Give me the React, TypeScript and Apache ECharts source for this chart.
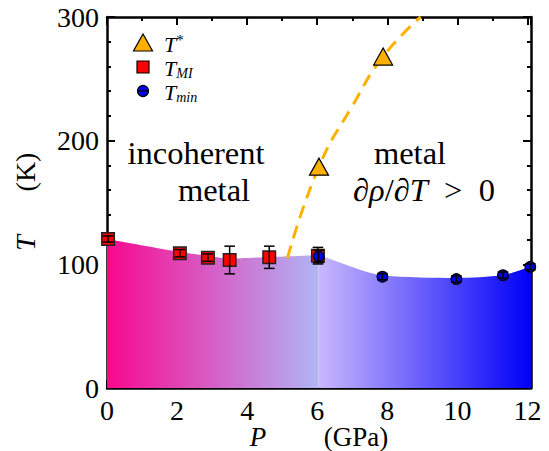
import React, { useEffect, useRef } from 'react';
import * as echarts from 'echarts';

// T_MI (red squares)
const tmiP = [0.03, 2.08, 2.88, 3.5, 4.63, 6.02];
const tmiT = [120.5, 109, 105.4, 103.5, 105.7, 107];
const tmiErr = [2.5, 3, 3, 11.2, 9, 6.7];
// T_min (blue circles)
const tminP = [6.04, 7.86, 9.97, 11.3, 12.08];
const tminT = [106.5, 90, 88.1, 91.3, 98];
const tminErr = [5, 2.5, 2.5, 2.5, 2.5];
// T* (orange triangles)
const tStarP = [6.05, 7.88];
const tStarT = [179, 268];
// dashed T* guide curve
const tStarCurveP = [5.15, 6.05, 7.0, 7.88, 8.95];
const tStarCurveT = [105, 179, 228, 268, 300];
// insulator / metal boundary (shaded region)
const boundaryLeftP = [0, 2.08, 2.88, 3.5, 4.63, 5.5, 6.03];
const boundaryLeftT = [120.5, 110, 107, 104.5, 106, 106.8, 107.5];
const boundaryRightP = [6.03, 6.25, 7.24, 7.88, 9.97, 11.3, 12.1];
const boundaryRightT = [107.5, 105.5, 95.5, 91, 89, 91.3, 98.5];

const serif = 'Liberation Serif';

export default function App() {
  const ref = useRef<HTMLDivElement>(null);
  useEffect(() => {
    if (!ref.current) return;
    const chart = echarts.init(ref.current, undefined, { renderer: 'svg' });
    const zip = (a: number[], b: number[]) => a.map((v, i) => [v, b[i]]);
    const errData = (p: number[], t: number[], e: number[]) => p.map((v, i) => [v, t[i] - e[i], t[i] + e[i]]);

    const axisCommon = {
      axisLine: { show: true, onZero: false, lineStyle: { color: '#000', width: 2.5 } },
      axisTick: { show: true, inside: true, length: 8, lineStyle: { color: '#000', width: 2 } },
      minorTick: { show: true, length: 4, lineStyle: { color: '#000', width: 2 } },
      splitLine: { show: false },
    };
    const labelStyle = { color: '#000', fontFamily: serif, fontSize: 28 };

    const errRender = (params: any, api: any) => {
      const x = api.value(0), lo = api.value(1), hi = api.value(2);
      const a = api.coord([x, lo]);
      const b = api.coord([x, hi]);
      const w = 5.3;
      const st = { stroke: '#000', lineWidth: 1.5 };
      return {
        type: 'group',
        children: [
          { type: 'line', shape: { x1: a[0], y1: a[1], x2: b[0], y2: b[1] }, style: st },
          { type: 'line', shape: { x1: a[0] - w, y1: a[1], x2: a[0] + w, y2: a[1] }, style: st },
          { type: 'line', shape: { x1: b[0] - w, y1: b[1], x2: b[0] + w, y2: b[1] }, style: st },
        ],
      };
    };

    const FS = 32.5;
    const LH = 29;
    const bigText = (text: string, x: number, y: number, rich = false) => ({
      type: 'text',
      x, y,
      style: {
        text,
        fontFamily: serif,
        fontSize: FS,
        lineHeight: LH,
        fill: '#000',
        align: 'center',
        verticalAlign: 'middle',
        ...(rich
          ? {
              rich: {
                i: { fontFamily: serif, fontSize: FS, fontStyle: 'italic', lineHeight: LH },
                n: { fontFamily: serif, fontSize: FS, lineHeight: LH },
              },
            }
          : {}),
      },
    });

    const legendRich = {
      t: { fontFamily: serif, fontSize: 22, fontStyle: 'italic', lineHeight: 24 },
      sup: { fontFamily: serif, fontSize: 15, fontStyle: 'normal', lineHeight: 12, verticalAlign: 'top' },
      sub: { fontFamily: serif, fontSize: 14, fontStyle: 'italic', lineHeight: 12, verticalAlign: 'bottom' },
    };

    chart.setOption({
      animation: false,
      backgroundColor: '#fff',
      grid: { left: 107, right: 18, top: 17, bottom: 63 },
      xAxis: [
        {
          type: 'value', min: 0, max: 12.1, interval: 2, position: 'bottom',
          ...axisCommon,
          minorTick: { ...axisCommon.minorTick, splitNumber: 2 },
          axisLabel: {
            ...labelStyle, margin: 8,
            formatter: (v: number) => (Math.abs(v - Math.round(v)) < 1e-6 && Math.round(v) % 2 === 0 ? String(Math.round(v)) : ''),
          },
        },
        {
          type: 'value', min: 0, max: 12.1, interval: 2, position: 'top',
          ...axisCommon,
          minorTick: { ...axisCommon.minorTick, splitNumber: 2 },
          axisLabel: { show: false },
        },
      ],
      yAxis: [
        {
          type: 'value', min: 0, max: 300, interval: 100, position: 'left',
          ...axisCommon,
          minorTick: { ...axisCommon.minorTick, splitNumber: 5 },
          axisLabel: { ...labelStyle, margin: 8 },
        },
        {
          type: 'value', min: 0, max: 300, interval: 100, position: 'right',
          ...axisCommon,
          minorTick: { ...axisCommon.minorTick, splitNumber: 5 },
          axisLabel: { show: false },
        },
      ],
      series: [
        {
          type: 'line', name: 'insulatorRegion', data: zip(boundaryLeftP, boundaryLeftT),
          smooth: 0.2, showSymbol: false, symbol: 'none', lineStyle: { width: 0 }, z: 1,
          areaStyle: {
            opacity: 1,
            color: new echarts.graphic.LinearGradient(0, 0, 1, 0, [
              { offset: 0, color: '#f8088e' },
              { offset: 0.5, color: '#d65fc5' },
              { offset: 1, color: '#b0b5f6' },
            ]),
          },
        },
        {
          type: 'line', name: 'metalRegion', data: zip(boundaryRightP, boundaryRightT),
          smooth: 0.3, showSymbol: false, symbol: 'none', lineStyle: { width: 0 }, z: 1,
          areaStyle: {
            opacity: 1,
            color: new echarts.graphic.LinearGradient(0, 0, 1, 0, [
              { offset: 0, color: '#cab8fd' },
              { offset: 1, color: '#0000f8' },
            ]),
          },
        },
        {
          type: 'line', name: 'T* guide', data: zip(tStarCurveP, tStarCurveT),
          smooth: true, showSymbol: false, symbol: 'none', z: 3,
          lineStyle: { color: '#ffb000', width: 3, type: [13, 8] },
        },
        {
          type: 'scatter', name: 'T_MI', data: zip(tmiP, tmiT), symbol: 'rect', symbolSize: 12.5, z: 4,
          itemStyle: { color: '#ff0000', borderColor: '#222', borderWidth: 1.5, opacity: 1 },
        },
        {
          type: 'scatter', name: 'T_min', data: zip(tminP, tminT), symbol: 'circle', symbolSize: 10.5, z: 5,
          itemStyle: { color: '#0000ee', borderColor: '#000', borderWidth: 1.3, opacity: 1 },
        },
        {
          type: 'custom', name: 'errMI', data: errData(tmiP, tmiT, tmiErr), renderItem: errRender,
          encode: { x: 0, y: [1, 2] }, z: 6,
        },
        {
          type: 'custom', name: 'errMin', data: errData(tminP, tminT, tminErr), renderItem: errRender,
          encode: { x: 0, y: [1, 2] }, z: 6,
        },
        {
          type: 'scatter', name: 'T*', data: zip(tStarP, tStarT), symbol: 'triangle', symbolSize: [19, 17], z: 7,
          itemStyle: { color: '#ffb000', borderColor: '#000', borderWidth: 1.2, opacity: 1 },
        },
      ],
      graphic: [
        // legend
        { type: 'polygon', shape: { points: [[143, 34], [152.5, 51], [133.5, 51]] }, style: { fill: '#ffb000', stroke: '#000', lineWidth: 1.2 }, z: 10 },
        { type: 'rect', shape: { x: 137, y: 61, width: 12, height: 12 }, style: { fill: '#ff0000', stroke: '#000', lineWidth: 1.2 }, z: 10 },
        { type: 'circle', shape: { cx: 143, cy: 91, r: 5.5 }, style: { fill: '#0000ee', stroke: '#000', lineWidth: 1.2 }, z: 10 },
        { type: 'line', shape: { x1: 137.5, y1: 91, x2: 148.5, y2: 91 }, style: { stroke: '#000', lineWidth: 1.2 }, z: 11 },
        { type: 'text', x: 164, y: 44, style: { text: '{t|T}{sup|*}', rich: legendRich, verticalAlign: 'middle', fill: '#000' }, z: 10 },
        { type: 'text', x: 164, y: 68, style: { text: '{t|T}{sub|MI}', rich: legendRich, verticalAlign: 'middle', fill: '#000' }, z: 10 },
        { type: 'text', x: 164, y: 92, style: { text: '{t|T}{sub|min}', rich: legendRich, verticalAlign: 'middle', fill: '#000' }, z: 10 },
        // region labels
        bigText('incoherent', 196, 153),
        bigText('metal', 214, 190),
        bigText('metal', 410, 153),
        bigText('{i|∂ρ}{n|/}{i|∂T}{n|\u00a0\u00a0>\u00a0\u00a00}', 424, 190, true),
        bigText('insulator', 201, 314),
        bigText('metal', 409, 299),
        bigText('{i|∂ρ}{n|/}{i|∂T}{n|\u00a0\u00a0<\u00a0\u00a00}', 427, 337, true),
        // axis titles
        { type: 'text', x: 258, y: 437, style: { text: 'P', fontFamily: serif, fontSize: 27, fontStyle: 'italic', fill: '#000', align: 'center', verticalAlign: 'middle' } },
        { type: 'text', x: 356, y: 437, style: { text: '(GPa)', fontFamily: serif, fontSize: 27, fill: '#000', align: 'center', verticalAlign: 'middle' } },
        { type: 'text', x: 25, y: 243, rotation: Math.PI / 2, style: { text: 'T', fontFamily: serif, fontSize: 28, fontStyle: 'italic', fill: '#000', align: 'center', verticalAlign: 'middle' } },
        { type: 'text', x: 25, y: 172, rotation: Math.PI / 2, style: { text: '(K)', fontFamily: serif, fontSize: 28, fill: '#000', align: 'center', verticalAlign: 'middle' } },
      ],
    });
    return () => chart.dispose();
  }, []);
  return <div ref={ref} style={{ position: 'fixed', left: 0, top: 0, width: 549, height: 451 }} />;
}
